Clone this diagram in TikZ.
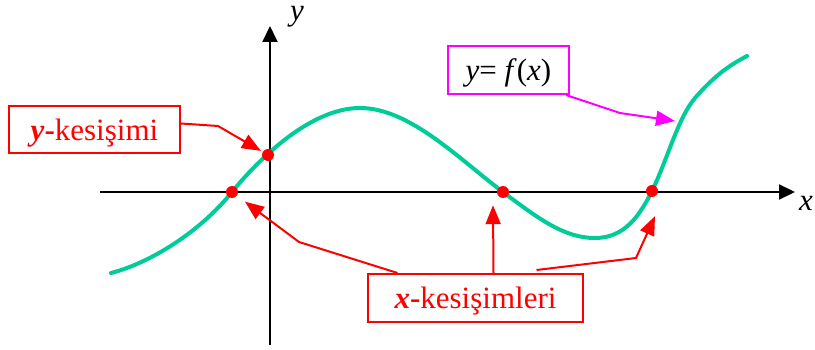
\documentclass[tikz,border=0pt]{standalone}
\usepackage{fontspec}
\setmainfont{Liberation Serif}
\usepackage{tikz}
\usetikzlibrary{arrows.meta}
\definecolor{curvegreen}{RGB}{0,204,153}
\definecolor{lblred}{RGB}{255,0,0}
\definecolor{lblmagenta}{RGB}{255,0,255}
\tikzset{
  lblbox/.style={draw,line width=2pt,minimum height=48pt,inner sep=0pt,text depth=0pt,font=\fontsize{31}{31}\selectfont},
  lblarrow/.style={line width=2pt,-{Triangle[length=19pt,width=15pt]}},
  axisarrow/.style={line width=2pt,-{Triangle[length=16pt,width=15pt]}},
  ptdot/.style={circle,fill=lblred,inner sep=0pt,minimum size=12pt},
  axislbl/.style={inner sep=0pt,font=\fontsize{31}{31}\selectfont\itshape}
}

\begin{document}
\begin{tikzpicture}[x=1pt,y=-1pt]
        \useasboundingbox (0,0) rectangle (815,350);
        \draw[axisarrow] (100,192) -- (795,192);
        \draw[axisarrow] (270,345) -- (270,26);
        \node[axislbl] (xlbl) at (806,203) {x};
        \node[axislbl] (ylbl) at (297,17) {y};
        \draw[curvegreen,line width=4pt,line cap=round] (111,273)
          .. controls (150,263) and (200,232) .. (232,192)
          .. controls (258,160) and (310,108) .. (360,108)
          .. controls (410,108) and (460,160) .. (503,192)
          .. controls (540,220) and (565,238) .. (595,238)
          .. controls (625,238) and (640,215) .. (652,191)
          .. controls (668,158) and (678,118) .. (695,98)
          .. controls (715,75) and (730,65) .. (747,56);
        \node[ptdot] (xdot1) at (232,192) {};
        \node[ptdot] (ydot) at (268,155) {};
        \node[ptdot] (xdot2) at (503,192) {};
        \node[ptdot] (xdot3) at (652,191) {};
        \node[lblbox,lblred,minimum width=171pt,minimum height=47pt] (ybox) at (94.5,129.5) {\textbf{\textit{y}-}kesişimi};
        \node[lblbox,lblred,minimum width=215pt] (xbox) at (475.5,298) {\textbf{\textit{x}-}kesişimleri};
        \node[lblbox,draw=lblmagenta,minimum width=121pt] (fbox) at (508.5,70) {\textit{y}= \textit{f}(\textit{x})};
        \coordinate (ftip) at (675,121);
        \draw[lblarrow,lblred,shorten >=2pt] ([yshift=6pt]ybox.east) -- (218,126) -- (ydot);
        \draw[lblarrow,lblred,shorten >=10pt] ([xshift=-78pt]xbox.north) -- (299,242) -- (xdot1);
        \draw[lblarrow,lblred] ([xshift=18pt]xbox.north) -- ([xshift=-10pt,yshift=-7pt]xdot2.south);
        \draw[lblarrow,lblred] ([xshift=61pt,yshift=3pt]xbox.north) -- (636,258) -- ([xshift=3pt,yshift=-19pt]xdot3.south);
        \draw[lblarrow,lblmagenta] ([xshift=-4pt]fbox.south east) -- (620,113) -- (ftip);
      \end{tikzpicture}
\end{document}
